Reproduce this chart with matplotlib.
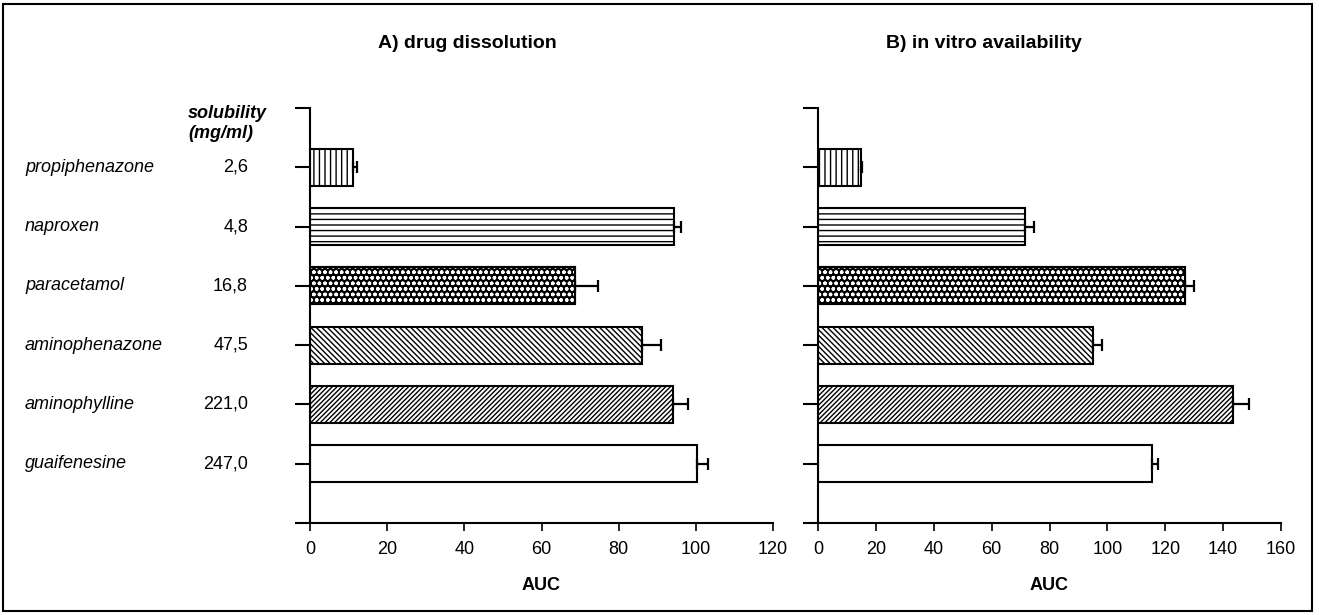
import matplotlib
matplotlib.use("Agg")
import matplotlib.pyplot as plt
import matplotlib.transforms as mtransforms
from matplotlib.patches import Rectangle
import numpy as np

plt.rcParams['font.family'] = ['Liberation Sans', 'DejaVu Sans']
plt.rcParams['hatch.linewidth'] = 1.0

# data
drugs = ["propiphenazone", "naproxen", "paracetamol",
         "aminophenazone", "aminophylline", "guaifenesine"]
solubility = ["2,6", "4,8", "16,8", "47,5", "221,0", "247,0"]
dissolution = [11.2, 94.3, 68.7, 86.1, 94.1, 100.3]
dissolution_err = [1.0, 1.9, 5.9, 4.9, 3.9, 2.9]
availability = [14.8, 71.5, 126.8, 95.0, 143.5, 115.4]
availability_err = [0.5, 3.1, 3.3, 3.1, 5.5, 2.1]

HATCHES = ["|||", "---", None, "\\" * 6, "/" * 7, ""]

W, H = 1319, 615
fig = plt.figure(figsize=(W / 100, H / 100), dpi=100)


def px_axes(x0, x1, y_top, y_bot):
    return fig.add_axes([x0 / W, 1 - y_bot / H, (x1 - x0) / W, (y_bot - y_top) / H])


def panel(ax, vals, errs, xmax, title):
    y = np.arange(len(drugs))[::-1] + 1
    for yi, v, h in zip(y, vals, HATCHES):
        if h is None:
            # dark stipple: black bar with small white dots
            ax.barh(yi, v, height=0.62, color="black", edgecolor="black", linewidth=1.5)
            ax.barh(yi, v, height=0.62, fill=False, hatch="ooo", edgecolor="white",
                    linewidth=0)
            ax.barh(yi, v, height=0.62, fill=False, edgecolor="black", linewidth=1.5)
        else:
            ax.barh(yi, v, height=0.62, color="white", edgecolor="black",
                    linewidth=1.5, hatch=h)
    ax.errorbar(vals, y, xerr=[np.zeros(len(errs)), errs], fmt="none",
                ecolor="black", elinewidth=1.6, capsize=4.5, capthick=1.6)
    ax.set_xlim(0, xmax)
    ax.set_ylim(0, 7)
    ax.set_xticks(np.arange(0, xmax + 1, 20))
    ax.set_yticks(np.arange(0, 8))
    ax.set_yticklabels([])
    ax.tick_params(axis="y", direction="out", length=11, width=1.5)
    ax.tick_params(axis="x", direction="out", length=6, width=1.2, labelsize=13, pad=7)
    for s in ("top", "right"):
        ax.spines[s].set_visible(False)
    for s in ("left", "bottom"):
        ax.spines[s].set_linewidth(1.5)
    ax.set_xlabel("AUC", fontsize=13, fontweight="bold", labelpad=14)
    fig.text(ax.get_position().x0 + 68 / W, 1 - 43 / H, title, fontsize=14,
             fontweight="bold", ha="left", va="center")


ax1 = px_axes(310, 773, 108, 523)
ax2 = px_axes(818, 1281, 108, 523)
panel(ax1, dissolution, dissolution_err, 120, "A) drug dissolution")
panel(ax2, availability, availability_err, 160, "B) in vitro availability")

# drug names and solubility column
tr = mtransforms.blended_transform_factory(fig.transFigure, ax1.transData)
for yi, name, sol in zip(np.arange(len(drugs))[::-1] + 1, drugs, solubility):
    fig.text(25 / W, yi, name, transform=tr, fontsize=13, style="italic",
             ha="left", va="center")
    fig.text(248 / W, yi, sol, transform=tr, fontsize=13, ha="right", va="center")
fig.text(188 / W, 1 - 113 / H, "solubility", fontsize=13, fontweight="bold",
         style="italic", ha="left", va="center")
fig.text(188 / W, 1 - 134 / H, "(mg/ml)", fontsize=13, fontweight="bold",
         style="italic", ha="left", va="center")

# frame around the whole figure
fig.patches.append(Rectangle((3 / W, 4 / H), 1309 / W, 607 / H, transform=fig.transFigure,
                             fill=False, edgecolor="black", linewidth=1.5))

fig.savefig("out.png", dpi=100)
